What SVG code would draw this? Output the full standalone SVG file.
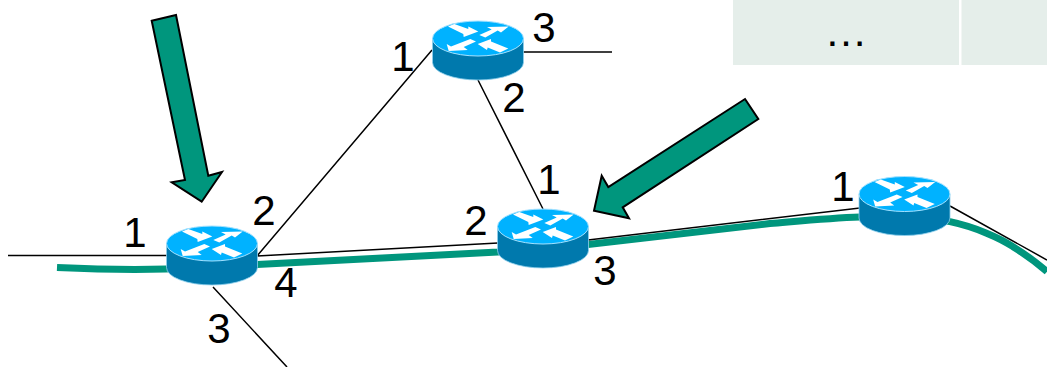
<svg xmlns="http://www.w3.org/2000/svg" width="1047" height="367" viewBox="0 0 1047 367">
<style>
.cell{fill:#e5eeea}
.wire{fill:none;stroke:#000;stroke-width:1.500}
.path{fill:none;stroke:#00967d;stroke-width:7}
.arrow{fill:#00967d;stroke:#000;stroke-width:2;stroke-linejoin:miter}
.lbl{font-family:"Liberation Sans",Arial,sans-serif;font-size:42px;fill:#000;text-anchor:middle}
.side{fill:#0079ad;stroke:#8fd0ee;stroke-width:.8}
.top{fill:#00b2ff;stroke:#a5e2ff;stroke-width:1}
.ar{fill:#fff}
</style>
<defs>
<g id="router">
<path class="side" d="M-45.500 0V24A45.500 17.500 0 0 0 45.500 24V0Z"/>
<ellipse class="top" rx="45.500" ry="17.500"/>
<g class="ar">
<polygon points="-30,-12 -23.700,-14.500 -9.700,-9.500 -9.700,-12 0.300,-7 -14.300,-1.500 -14.700,-4.500"/>
<polygon points="1.300,-3.500 13.700,-9 9,-11.500 30.700,-12 23,-6 19.700,-8 7.300,-1"/>
<polygon points="-7.700,0.500 -2,3 -14.300,8.500 -10.300,11.500 -29.300,12.500 -31.300,5.500 -27,8"/>
<polygon points="-0.300,5.500 13,0.500 13,3 30.300,10 22,14 9.700,9 9,11.500"/>
</g>
</g>
</defs>
<g id="table">
<rect class="cell" x="733" y="0" width="226" height="65"/>
<rect class="cell" x="961.500" y="0" width="85.500" height="65"/>
<text class="lbl" x="846" y="46" style="font-size:43px">…</text>
</g>
<g id="connectors">
<path class="path" d="M57 267.500C90 269 130 270 166 269L257 264.500L498 252L588 244.500L770 223.500C800 221 830 218 860 217C900 215 930 217 950 221.700C975 227 1000 238 1013 246.700C1025 254 1037 263 1047 271.700"/>
<path class="wire" d="M8 255.500H167M257 256L432 50M257 256L498 243M213 287L287 367M478 80L543 209M523 52H612M588 240L860 208M950 206L1047 260"/>
</g>
<g id="router1"><use href="#router" x="212" y="243.500"/></g>
<g id="router2"><use href="#router" x="478" y="38.500"/></g>
<g id="router3"><use href="#router" x="543" y="226.500"/></g>
<g id="router4"><use href="#router" x="904.500" y="194"/></g>
<g id="arrow1"><polygon class="arrow" points="151.700,20.700 176,15 208.300,175.700 222,172 201.700,201.700 171.700,182.300 185,180"/></g>
<g id="arrow2"><polygon class="arrow" points="745,99 758.300,119 622.700,207.300 629,218.300 594,210.700 601.700,175.700 608.300,187"/></g>
<g id="labels">
<text class="lbl" x="135" y="247">1</text>
<text class="lbl" x="264" y="225">2</text>
<text class="lbl" x="286" y="297">4</text>
<text class="lbl" x="219" y="343">3</text>
<text class="lbl" x="403" y="71">1</text>
<text class="lbl" x="544" y="42">3</text>
<text class="lbl" x="514" y="112">2</text>
<text class="lbl" x="549" y="194">1</text>
<text class="lbl" x="476" y="235">2</text>
<text class="lbl" x="605" y="285">3</text>
<text class="lbl" x="843" y="201">1</text>
</g>
</svg>
